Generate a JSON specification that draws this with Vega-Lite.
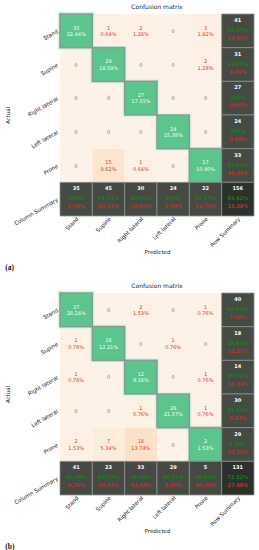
{
  "$schema": "https://vega.github.io/schema/vega-lite/v6.json",
  "padding": {"left": 5, "top": 3, "right": 0, "bottom": 0},
  "spacing": 10,
  "config": {
    "font": "DejaVu Sans",
    "view": {"stroke": null},
    "axis": {"labelFontSize": 5.5, "titleFontSize": 5.5, "titleFontWeight": "normal", "ticks": false, "domain": false, "labelColor": "#222222", "titleColor": "#222222"},
    "concat": {"spacing": 0}
  },
  "datasets": {
    "cm": [
      {"p": "a", "a": "Stand", "pr": "Stand", "type": "diag", "n": 35, "pct": "22.44%"},
      {"p": "a", "a": "Stand", "pr": "Supine", "type": "off", "n": 1, "pct": "0.64%"},
      {"p": "a", "a": "Stand", "pr": "Right lateral", "type": "off", "n": 2, "pct": "1.28%"},
      {"p": "a", "a": "Stand", "pr": "Left lateral", "type": "zero", "n": 0, "pct": ""},
      {"p": "a", "a": "Stand", "pr": "Prone", "type": "off", "n": 3, "pct": "1.92%"},
      {"p": "a", "a": "Stand", "pr": "Row Summary", "type": "sum", "n": 41, "acc": "85.37%", "err": "14.63%"},
      {"p": "a", "a": "Supine", "pr": "Stand", "type": "zero", "n": 0, "pct": ""},
      {"p": "a", "a": "Supine", "pr": "Supine", "type": "diag", "n": 29, "pct": "18.59%"},
      {"p": "a", "a": "Supine", "pr": "Right lateral", "type": "zero", "n": 0, "pct": ""},
      {"p": "a", "a": "Supine", "pr": "Left lateral", "type": "zero", "n": 0, "pct": ""},
      {"p": "a", "a": "Supine", "pr": "Prone", "type": "off", "n": 2, "pct": "1.28%"},
      {"p": "a", "a": "Supine", "pr": "Row Summary", "type": "sum", "n": 31, "acc": "93.55%", "err": "6.45%"},
      {"p": "a", "a": "Right lateral", "pr": "Stand", "type": "zero", "n": 0, "pct": ""},
      {"p": "a", "a": "Right lateral", "pr": "Supine", "type": "zero", "n": 0, "pct": ""},
      {"p": "a", "a": "Right lateral", "pr": "Right lateral", "type": "diag", "n": 27, "pct": "17.31%"},
      {"p": "a", "a": "Right lateral", "pr": "Left lateral", "type": "zero", "n": 0, "pct": ""},
      {"p": "a", "a": "Right lateral", "pr": "Prone", "type": "zero", "n": 0, "pct": ""},
      {"p": "a", "a": "Right lateral", "pr": "Row Summary", "type": "sum", "n": 27, "acc": "100%", "err": "0.00%"},
      {"p": "a", "a": "Left lateral", "pr": "Stand", "type": "zero", "n": 0, "pct": ""},
      {"p": "a", "a": "Left lateral", "pr": "Supine", "type": "zero", "n": 0, "pct": ""},
      {"p": "a", "a": "Left lateral", "pr": "Right lateral", "type": "zero", "n": 0, "pct": ""},
      {"p": "a", "a": "Left lateral", "pr": "Left lateral", "type": "diag", "n": 24, "pct": "15.38%"},
      {"p": "a", "a": "Left lateral", "pr": "Prone", "type": "zero", "n": 0, "pct": ""},
      {"p": "a", "a": "Left lateral", "pr": "Row Summary", "type": "sum", "n": 24, "acc": "100%", "err": "0.00%"},
      {"p": "a", "a": "Prone", "pr": "Stand", "type": "zero", "n": 0, "pct": ""},
      {"p": "a", "a": "Prone", "pr": "Supine", "type": "off", "n": 15, "pct": "9.62%"},
      {"p": "a", "a": "Prone", "pr": "Right lateral", "type": "off", "n": 1, "pct": "0.64%"},
      {"p": "a", "a": "Prone", "pr": "Left lateral", "type": "zero", "n": 0, "pct": ""},
      {"p": "a", "a": "Prone", "pr": "Prone", "type": "diag", "n": 17, "pct": "10.90%"},
      {"p": "a", "a": "Prone", "pr": "Row Summary", "type": "sum", "n": 33, "acc": "51.52%", "err": "48.48%"},
      {"p": "a", "a": "Column Summary", "pr": "Stand", "type": "sum", "n": 35, "acc": "100%", "err": "0.00%"},
      {"p": "a", "a": "Column Summary", "pr": "Supine", "type": "sum", "n": 45, "acc": "64.44%", "err": "35.56%"},
      {"p": "a", "a": "Column Summary", "pr": "Right lateral", "type": "sum", "n": 30, "acc": "90.00%", "err": "10.00%"},
      {"p": "a", "a": "Column Summary", "pr": "Left lateral", "type": "sum", "n": 24, "acc": "100%", "err": "0.00%"},
      {"p": "a", "a": "Column Summary", "pr": "Prone", "type": "sum", "n": 22, "acc": "77.27%", "err": "22.73%"},
      {"p": "a", "a": "Column Summary", "pr": "Row Summary", "type": "corner", "n": 156, "acc": "84.62%", "err": "15.38%"},

      {"p": "b", "a": "Stand", "pr": "Stand", "type": "diag", "n": 37, "pct": "28.24%"},
      {"p": "b", "a": "Stand", "pr": "Supine", "type": "zero", "n": 0, "pct": ""},
      {"p": "b", "a": "Stand", "pr": "Right lateral", "type": "off", "n": 2, "pct": "1.53%"},
      {"p": "b", "a": "Stand", "pr": "Left lateral", "type": "zero", "n": 0, "pct": ""},
      {"p": "b", "a": "Stand", "pr": "Prone", "type": "off", "n": 1, "pct": "0.76%"},
      {"p": "b", "a": "Stand", "pr": "Row Summary", "type": "sum", "n": 40, "acc": "92.50%", "err": "7.50%"},
      {"p": "b", "a": "Supine", "pr": "Stand", "type": "off", "n": 1, "pct": "0.76%"},
      {"p": "b", "a": "Supine", "pr": "Supine", "type": "diag", "n": 16, "pct": "12.21%"},
      {"p": "b", "a": "Supine", "pr": "Right lateral", "type": "zero", "n": 0, "pct": ""},
      {"p": "b", "a": "Supine", "pr": "Left lateral", "type": "off", "n": 1, "pct": "0.76%"},
      {"p": "b", "a": "Supine", "pr": "Prone", "type": "zero", "n": 0, "pct": ""},
      {"p": "b", "a": "Supine", "pr": "Row Summary", "type": "sum", "n": 18, "acc": "88.89%", "err": "11.11%"},
      {"p": "b", "a": "Right lateral", "pr": "Stand", "type": "off", "n": 1, "pct": "0.76%"},
      {"p": "b", "a": "Right lateral", "pr": "Supine", "type": "zero", "n": 0, "pct": ""},
      {"p": "b", "a": "Right lateral", "pr": "Right lateral", "type": "diag", "n": 12, "pct": "9.16%"},
      {"p": "b", "a": "Right lateral", "pr": "Left lateral", "type": "zero", "n": 0, "pct": ""},
      {"p": "b", "a": "Right lateral", "pr": "Prone", "type": "off", "n": 1, "pct": "0.76%"},
      {"p": "b", "a": "Right lateral", "pr": "Row Summary", "type": "sum", "n": 14, "acc": "85.71%", "err": "14.29%"},
      {"p": "b", "a": "Left lateral", "pr": "Stand", "type": "zero", "n": 0, "pct": ""},
      {"p": "b", "a": "Left lateral", "pr": "Supine", "type": "zero", "n": 0, "pct": ""},
      {"p": "b", "a": "Left lateral", "pr": "Right lateral", "type": "off", "n": 1, "pct": "0.76%"},
      {"p": "b", "a": "Left lateral", "pr": "Left lateral", "type": "diag", "n": 28, "pct": "21.37%"},
      {"p": "b", "a": "Left lateral", "pr": "Prone", "type": "off", "n": 1, "pct": "0.76%"},
      {"p": "b", "a": "Left lateral", "pr": "Row Summary", "type": "sum", "n": 30, "acc": "93.33%", "err": "6.67%"},
      {"p": "b", "a": "Prone", "pr": "Stand", "type": "off", "n": 2, "pct": "1.53%"},
      {"p": "b", "a": "Prone", "pr": "Supine", "type": "off", "n": 7, "pct": "5.34%"},
      {"p": "b", "a": "Prone", "pr": "Right lateral", "type": "off", "n": 18, "pct": "13.74%"},
      {"p": "b", "a": "Prone", "pr": "Left lateral", "type": "zero", "n": 0, "pct": ""},
      {"p": "b", "a": "Prone", "pr": "Prone", "type": "diag", "n": 2, "pct": "1.53%"},
      {"p": "b", "a": "Prone", "pr": "Row Summary", "type": "sum", "n": 29, "acc": "6.90%", "err": "93.10%"},
      {"p": "b", "a": "Column Summary", "pr": "Stand", "type": "sum", "n": 41, "acc": "90.24%", "err": "9.76%"},
      {"p": "b", "a": "Column Summary", "pr": "Supine", "type": "sum", "n": 23, "acc": "69.57%", "err": "30.43%"},
      {"p": "b", "a": "Column Summary", "pr": "Right lateral", "type": "sum", "n": 33, "acc": "36.36%", "err": "63.64%"},
      {"p": "b", "a": "Column Summary", "pr": "Left lateral", "type": "sum", "n": 29, "acc": "96.55%", "err": "3.45%"},
      {"p": "b", "a": "Column Summary", "pr": "Prone", "type": "sum", "n": 5, "acc": "40.00%", "err": "60.00%"},
      {"p": "b", "a": "Column Summary", "pr": "Row Summary", "type": "corner", "n": 131, "acc": "72.52%", "err": "27.48%"}
    ]
  },
  "vconcat": [
    {
      "title": {"text": "(a)", "orient": "bottom", "anchor": "start", "font": "Liberation Serif", "fontSize": 7.5, "fontWeight": "bold", "offset": 9, "color": "#111111"},
      "vconcat": [
        {
          "data": {"name": "cm"},
          "transform": [{"filter": "datum.p == 'a'"}],
          "width": 194,
          "height": 202,
          "title": {"text": "Confusion matrix", "fontSize": 6, "fontWeight": "normal", "offset": 2, "color": "#222222"},
          "encoding": {
            "x": {"field": "pr", "type": "nominal", "sort": ["Stand", "Supine", "Right lateral", "Left lateral", "Prone", "Row Summary"], "scale": {"paddingInner": 0, "paddingOuter": 0}, "axis": {"title": "Predicted", "labelAngle": -45, "labelAlign": "right", "labelBaseline": "top", "labelPadding": 0, "titlePadding": 1}},
            "y": {"field": "a", "type": "nominal", "sort": ["Stand", "Supine", "Right lateral", "Left lateral", "Prone", "Column Summary"], "scale": {"paddingInner": 0, "paddingOuter": 0}, "axis": {"title": "Actual", "labelAngle": -30, "labelAlign": "right", "labelBaseline": "middle", "labelPadding": 3, "titlePadding": 3}}
          },
          "layer": [
            {"transform": [{"filter": "datum.type == 'off' || datum.type == 'zero'"}], "mark": {"type": "rect"}, "encoding": {"color": {"field": "n", "type": "quantitative", "scale": {"domain": [0, 60], "range": ["#fdf2e8", "#f7b98a"], "clamp": true}, "legend": null}}},
            {"transform": [{"filter": "datum.type == 'diag'"}], "mark": {"type": "rect", "fill": null, "stroke": "#d9f6e6", "strokeWidth": 5}, "encoding": {}},
            {"transform": [{"filter": "datum.type == 'diag'"}], "mark": {"type": "rect", "fill": "#5ac58d", "stroke": "#8d9a90", "strokeWidth": 1.6}, "encoding": {}},
            {"transform": [{"filter": "datum.type == 'sum' || datum.type == 'corner'"}], "mark": {"type": "rect", "stroke": "#8e928e", "strokeWidth": 0.8}, "encoding": {"fill": {"condition": {"test": "datum.type == 'corner'", "value": "#2b312b"}, "value": "#454b44"}}},
            {"transform": [{"filter": "datum.type == 'off' || datum.type == 'diag'"}], "mark": {"type": "text", "fontSize": 5, "dy": -3.2}, "encoding": {"text": {"field": "n"}, "color": {"condition": {"test": "datum.type == 'diag'", "value": "#f2fff7"}, "value": "#d4402f"}}},
            {"transform": [{"filter": "datum.type == 'off' || datum.type == 'diag'"}], "mark": {"type": "text", "fontSize": 5, "dy": 3.2}, "encoding": {"text": {"field": "pct"}, "color": {"condition": {"test": "datum.type == 'diag'", "value": "#f2fff7"}, "value": "#d4402f"}}},
            {"transform": [{"filter": "datum.type == 'zero'"}], "mark": {"type": "text", "fontSize": 5, "color": "#857268"}, "encoding": {"text": {"field": "n"}}},
            {"transform": [{"filter": "datum.type == 'sum' || datum.type == 'corner'"}], "mark": {"type": "text", "fontSize": 5, "fontWeight": "bold", "color": "#ffffff", "dy": -11}, "encoding": {"text": {"field": "n"}}},
            {"transform": [{"filter": "datum.type == 'sum' || datum.type == 'corner'"}], "mark": {"type": "text", "fontSize": 5, "fontWeight": "bold", "color": "#1a7f1a", "dy": -1}, "encoding": {"text": {"field": "acc"}}},
            {"transform": [{"filter": "datum.type == 'sum' || datum.type == 'corner'"}], "mark": {"type": "text", "fontSize": 5, "fontWeight": "bold", "color": "#b8352c", "dy": 7}, "encoding": {"text": {"field": "err"}}}
          ]
        }
      ]
    },
    {
      "title": {"text": "(b)", "orient": "bottom", "anchor": "start", "font": "Liberation Serif", "fontSize": 7.5, "fontWeight": "bold", "offset": 9, "color": "#111111"},
      "vconcat": [
        {
          "data": {"name": "cm"},
          "transform": [{"filter": "datum.p == 'b'"}],
          "width": 194,
          "height": 202,
          "title": {"text": "Confusion matrix", "fontSize": 6, "fontWeight": "normal", "offset": 2, "color": "#222222"},
          "encoding": {
            "x": {"field": "pr", "type": "nominal", "sort": ["Stand", "Supine", "Right lateral", "Left lateral", "Prone", "Row Summary"], "scale": {"paddingInner": 0, "paddingOuter": 0}, "axis": {"title": "Predicted", "labelAngle": -45, "labelAlign": "right", "labelBaseline": "top", "labelPadding": 0, "titlePadding": 1}},
            "y": {"field": "a", "type": "nominal", "sort": ["Stand", "Supine", "Right lateral", "Left lateral", "Prone", "Column Summary"], "scale": {"paddingInner": 0, "paddingOuter": 0}, "axis": {"title": "Actual", "labelAngle": -30, "labelAlign": "right", "labelBaseline": "middle", "labelPadding": 3, "titlePadding": 3}}
          },
          "layer": [
            {"transform": [{"filter": "datum.type == 'off' || datum.type == 'zero'"}], "mark": {"type": "rect"}, "encoding": {"color": {"field": "n", "type": "quantitative", "scale": {"domain": [0, 60], "range": ["#fdf2e8", "#f7b98a"], "clamp": true}, "legend": null}}},
            {"transform": [{"filter": "datum.type == 'diag'"}], "mark": {"type": "rect", "fill": null, "stroke": "#d9f6e6", "strokeWidth": 5}, "encoding": {}},
            {"transform": [{"filter": "datum.type == 'diag'"}], "mark": {"type": "rect", "fill": "#5ac58d", "stroke": "#8d9a90", "strokeWidth": 1.6}, "encoding": {}},
            {"transform": [{"filter": "datum.type == 'sum' || datum.type == 'corner'"}], "mark": {"type": "rect", "stroke": "#8e928e", "strokeWidth": 0.8}, "encoding": {"fill": {"condition": {"test": "datum.type == 'corner'", "value": "#2b312b"}, "value": "#454b44"}}},
            {"transform": [{"filter": "datum.type == 'off' || datum.type == 'diag'"}], "mark": {"type": "text", "fontSize": 5, "dy": -3.2}, "encoding": {"text": {"field": "n"}, "color": {"condition": {"test": "datum.type == 'diag'", "value": "#f2fff7"}, "value": "#d4402f"}}},
            {"transform": [{"filter": "datum.type == 'off' || datum.type == 'diag'"}], "mark": {"type": "text", "fontSize": 5, "dy": 3.2}, "encoding": {"text": {"field": "pct"}, "color": {"condition": {"test": "datum.type == 'diag'", "value": "#f2fff7"}, "value": "#d4402f"}}},
            {"transform": [{"filter": "datum.type == 'zero'"}], "mark": {"type": "text", "fontSize": 5, "color": "#857268"}, "encoding": {"text": {"field": "n"}}},
            {"transform": [{"filter": "datum.type == 'sum' || datum.type == 'corner'"}], "mark": {"type": "text", "fontSize": 5, "fontWeight": "bold", "color": "#ffffff", "dy": -11}, "encoding": {"text": {"field": "n"}}},
            {"transform": [{"filter": "datum.type == 'sum' || datum.type == 'corner'"}], "mark": {"type": "text", "fontSize": 5, "fontWeight": "bold", "color": "#1a7f1a", "dy": -1}, "encoding": {"text": {"field": "acc"}}},
            {"transform": [{"filter": "datum.type == 'sum' || datum.type == 'corner'"}], "mark": {"type": "text", "fontSize": 5, "fontWeight": "bold", "color": "#b8352c", "dy": 7}, "encoding": {"text": {"field": "err"}}}
          ]
        }
      ]
    }
  ]
}
